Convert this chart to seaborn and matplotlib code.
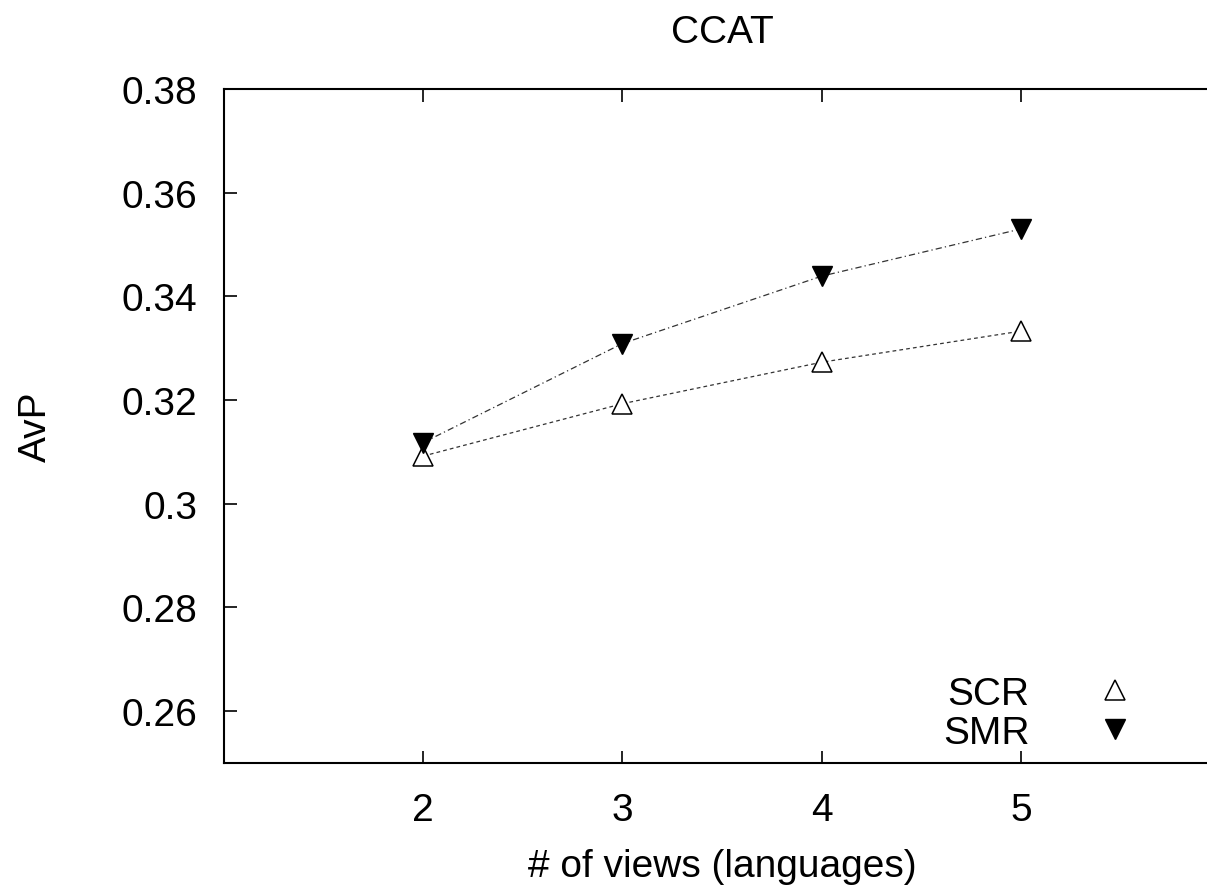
import matplotlib
matplotlib.use("Agg")
import matplotlib.pyplot as plt
import seaborn as sns
import pandas as pd
from matplotlib.lines import Line2D

views = [2, 3, 4, 5]
scr = [0.3092, 0.3193, 0.3273, 0.3333]
smr = [0.3118, 0.3309, 0.3439, 0.3530]
yticks = [0.26, 0.28, 0.30, 0.32, 0.34, 0.36, 0.38]
ytick_labels = ["0.26", "0.28", "0.3", "0.32", "0.34", "0.36", "0.38"]

sns.set_style("ticks")
plt.rcParams['font.family'] = ['Liberation Sans', 'DejaVu Sans']
plt.rcParams['text.color'] = 'black'
plt.rcParams['xtick.color'] = 'black'
plt.rcParams['ytick.color'] = 'black'
plt.rcParams['axes.labelcolor'] = 'black'

W, H = 1207, 887
fig = plt.figure(figsize=(W / 100, H / 100), dpi=100)
left, right, top, bottom = 224, 1220, 90, 764
ax = fig.add_axes([left / W, 1 - bottom / H, (right - left) / W, (bottom - top) / H])

df = pd.DataFrame({"views": views * 2, "avp": scr + smr,
                   "method": ["SCR"] * 4 + ["SMR"] * 4})

sns.lineplot(data=df[df.method == "SCR"], x="views", y="avp", ax=ax,
             color="#333333", lw=0.9, linestyle=(0, (3, 2.5)), legend=False)
sns.lineplot(data=df[df.method == "SMR"], x="views", y="avp", ax=ax,
             color="#333333", lw=0.9, linestyle=(0, (5, 2.5, 1, 2.5)), legend=False)
ax.plot(views, scr, linestyle="none", marker="^", markersize=15,
        markerfacecolor="white", markeredgecolor="black", markeredgewidth=1.1)
ax.plot(views, smr, linestyle="none", marker="v", markersize=15,
        markerfacecolor="black", markeredgecolor="black")

ax.set_xlim(1, 6)
ax.set_ylim(0.25, 0.38)
ax.set_xticks(views)
ax.set_xticklabels([str(v) for v in views])
ax.set_yticks(yticks)
ax.set_yticklabels(ytick_labels)
for s in ax.spines.values():
    s.set_linewidth(1.5)
    s.set_color("black")
ax.tick_params(direction="in", length=9, width=1.2, labelsize=28,
               top=True, right=True)
ax.tick_params(axis="x", pad=21)
ax.tick_params(axis="y", pad=19)

ax.set_xlabel("# of views (languages)", fontsize=28, labelpad=14)
ax.set_ylabel("AvP", fontsize=28, labelpad=49)
ax.set_title("CCAT", fontsize=28, pad=34)

handles = [
    Line2D([], [], linestyle="none", marker="^", markersize=15,
           markerfacecolor="white", markeredgecolor="black", markeredgewidth=1.1),
    Line2D([], [], linestyle="none", marker="v", markersize=15,
           markerfacecolor="black", markeredgecolor="black"),
]
leg = ax.legend(handles, ["SCR", "SMR"], loc="lower right", frameon=False,
                markerfirst=False, fontsize=28, handlelength=2.0,
                handletextpad=1.2, labelspacing=0.08, borderpad=0, borderaxespad=0,
                bbox_to_anchor=(1154 / W, 1 - 752 / H), bbox_transform=fig.transFigure)
fig.savefig("out.png", dpi=100)
